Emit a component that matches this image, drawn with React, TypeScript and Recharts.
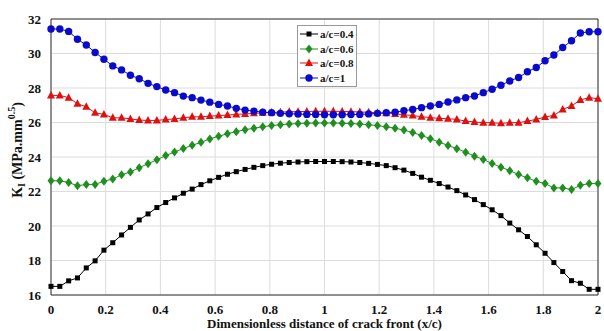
import React from "react";
import {
  LineChart,
  Line,
  XAxis,
  YAxis,
  CartesianGrid,
  ReferenceLine,
} from "recharts";

// K_I along the crack front for four a/c ratios
// 63 evenly spaced stations along x/c = 0..2

const positions = Array.from({ length: 63 }, (_, i) => i / 31);

const kAc04 = [
  16.5, 16.5, 16.82, 16.99, 17.57, 17.98, 18.6, 19.03, 19.48, 19.92, 20.35,
  20.7, 21.07, 21.36, 21.63, 21.9, 22.14, 22.4, 22.62, 22.82, 23.0, 23.15,
  23.28, 23.4, 23.5, 23.58, 23.64, 23.68, 23.71, 23.73, 23.74, 23.74, 23.74,
  23.73, 23.71, 23.68, 23.63, 23.57, 23.5, 23.38, 23.24, 23.05, 22.83, 22.65,
  22.46, 22.26, 22.05, 21.8, 21.53, 21.24, 20.94, 20.6, 20.17, 19.78, 19.39,
  18.91, 18.42, 17.88, 17.36, 16.83, 16.68, 16.33, 16.33,
];

const kAc06 = [
  22.62, 22.62, 22.52, 22.33, 22.41, 22.41, 22.6, 22.72, 22.97, 23.13, 23.38,
  23.61, 23.84, 24.08, 24.29, 24.49, 24.68, 24.85, 25.05, 25.2, 25.35, 25.47,
  25.58, 25.67, 25.75, 25.82, 25.87, 25.91, 25.94, 25.96, 25.97, 25.97, 25.97,
  25.96, 25.94, 25.91, 25.87, 25.82, 25.75, 25.67, 25.56, 25.42, 25.25, 25.06,
  24.86, 24.67, 24.48, 24.28, 24.05, 23.86, 23.62, 23.41, 23.21, 22.98, 22.79,
  22.59, 22.46, 22.21, 22.21, 22.11, 22.36, 22.46, 22.46,
];

const kAc08 = [
  27.57, 27.57, 27.44, 27.09, 26.91, 26.56, 26.47, 26.27, 26.27, 26.21, 26.14,
  26.12, 26.12, 26.17, 26.21, 26.27, 26.33, 26.33, 26.37, 26.4, 26.43, 26.47,
  26.5, 26.53, 26.56, 26.58, 26.6, 26.62, 26.63, 26.64, 26.65, 26.65, 26.65,
  26.64, 26.63, 26.61, 26.59, 26.56, 26.53, 26.5, 26.45, 26.4, 26.34, 26.28,
  26.24, 26.22, 26.18, 26.08, 26.03, 25.99, 25.99, 25.95, 25.99, 25.99, 26.08,
  26.18, 26.32, 26.41, 26.76, 26.96, 27.31, 27.44, 27.38,
];

const kAc10 = [
  31.42, 31.42, 31.28, 30.83, 30.49, 30.06, 29.67, 29.28, 29.05, 28.74, 28.54,
  28.27, 28.08, 27.88, 27.73, 27.53, 27.44, 27.3, 27.18, 27.05, 26.96, 26.82,
  26.72, 26.66, 26.6, 26.57, 26.53, 26.51, 26.49, 26.47, 26.46, 26.45, 26.45,
  26.45, 26.46, 26.47, 26.5, 26.53, 26.57, 26.6, 26.68, 26.76, 26.86, 26.96,
  27.05, 27.19, 27.31, 27.44, 27.54, 27.73, 27.93, 28.16, 28.41, 28.61, 28.94,
  29.19, 29.58, 29.91, 30.35, 30.74, 31.19, 31.26, 31.26,
];

const xTicks = [0, 0.2, 0.4, 0.6, 0.8, 1, 1.2, 1.4, 1.6, 1.8, 2];
const yTicks = [16, 18, 20, 22, 24, 26, 28, 30, 32];

const data = positions.map((x, i) => ({
  x,
  a04: kAc04[i],
  a06: kAc06[i],
  a08: kAc08[i],
  a10: kAc10[i],
}));

const FONT = "'Liberation Serif', 'Times New Roman', serif";

type Shape = "square" | "diamond" | "triangle" | "circle";

const series: { key: string; label: string; color: string; shape: Shape }[] = [
  { key: "a04", label: "a/c=0.4", color: "#000000", shape: "square" },
  { key: "a06", label: "a/c=0.6", color: "#1f8f1f", shape: "diamond" },
  { key: "a08", label: "a/c=0.8", color: "#e01010", shape: "triangle" },
  { key: "a10", label: "a/c=1", color: "#0a0acc", shape: "circle" },
];

function Marker({ cx, cy, shape, color }: { cx: number; cy: number; shape: Shape; color: string }) {
  if (cx == null || cy == null) return null;
  switch (shape) {
    case "square":
      return <rect x={cx - 2.5} y={cy - 2.5} width={5} height={5} fill={color} />;
    case "diamond":
      return (
        <polygon
          points={`${cx},${cy - 4.5} ${cx + 3.5},${cy} ${cx},${cy + 4.5} ${cx - 3.5},${cy}`}
          fill={color}
        />
      );
    case "triangle":
      return (
        <polygon
          points={`${cx},${cy - 4.5} ${cx + 4},${cy + 3} ${cx - 4},${cy + 3}`}
          fill={color}
        />
      );
    default:
      return <circle cx={cx} cy={cy} r={3.7} fill={color} />;
  }
}

function LegendBox() {
  return (
    <div
      style={{
        position: "absolute",
        left: 297,
        top: 25,
        border: "1px solid #9a9a9a",
        background: "#fff",
        padding: "1px 3px 1px 1px",
        fontFamily: FONT,
        fontWeight: "bold",
        fontSize: 11,
        lineHeight: "14.5px",
        color: "#111",
      }}
    >
      {series.map((s) => (
        <div key={s.key} style={{ display: "flex", alignItems: "center", whiteSpace: "nowrap" }}>
          <svg width={20} height={12} style={{ marginRight: 1 }}>
            <line x1={1} y1={6} x2={19} y2={6} stroke={s.color} strokeWidth={1} />
            <Marker cx={10} cy={6} shape={s.shape} color={s.color} />
          </svg>
          <span>{s.label}</span>
        </div>
      ))}
    </div>
  );
}

function YTitle({ viewBox }: any) {
  const cx = 17;
  const cy = viewBox ? viewBox.y + viewBox.height / 2 - 7 : 150;
  return (
    <text
      x={cx}
      y={cy}
      transform={`rotate(-90, ${cx}, ${cy})`}
      textAnchor="middle"
      dominantBaseline="central"
      fontFamily={FONT}
      fontWeight="bold"
      fontSize={14}
      fill="#111"
    >
      K
      <tspan fontSize={10} dy={4}>I</tspan>
      <tspan dy={-4}> (MPa.mm</tspan>
      <tspan fontSize={10} dy={-6}>0.5</tspan>
      <tspan dy={6}>)</tspan>
    </text>
  );
}

export default function App() {
  const tickStyle = { fill: "#111", fontSize: 13, fontWeight: "bold" as const, fontFamily: FONT };
  return (
    <div style={{ position: "absolute", left: 0, top: 0, width: 604, height: 331, background: "#fff" }}>
      <LineChart width={604} height={331} data={data} margin={{ top: 19, right: 6, left: 0, bottom: 0 }}>
        <CartesianGrid stroke="#dcdcdc" strokeWidth={1} />
        <XAxis
          dataKey="x"
          type="number"
          domain={[0, 2]}
          ticks={xTicks}
          interval={0}
          tick={tickStyle}
          tickLine={false}
          tickMargin={4}
          axisLine={{ stroke: "#333" }}
          height={36}
          label={{
            value: "Dimensionless distance of crack front (x/c)",
            position: "insideBottom",
            offset: 3,
            style: { fill: "#111", fontSize: 13, fontWeight: "bold", fontFamily: FONT },
          }}
        />
        <YAxis
          type="number"
          domain={[16, 32]}
          ticks={yTicks}
          interval={0}
          tick={tickStyle}
          tickLine={false}
          tickMargin={4}
          axisLine={{ stroke: "#333" }}
          width={51}
          label={<YTitle />}
        />
        <ReferenceLine y={32} stroke="#333" ifOverflow="extendDomain" />
        <ReferenceLine x={2} stroke="#333" ifOverflow="extendDomain" />
        {series.map((s) => (
          <Line
            key={s.key}
            type="linear"
            dataKey={s.key}
            name={s.label}
            stroke={s.color}
            strokeWidth={1}
            dot={(p: any) => (
              <Marker key={`${s.key}-${p.index}`} cx={p.cx} cy={p.cy} shape={s.shape} color={s.color} />
            )}
            isAnimationActive={false}
          />
        ))}
      </LineChart>
      <LegendBox />
    </div>
  );
}
